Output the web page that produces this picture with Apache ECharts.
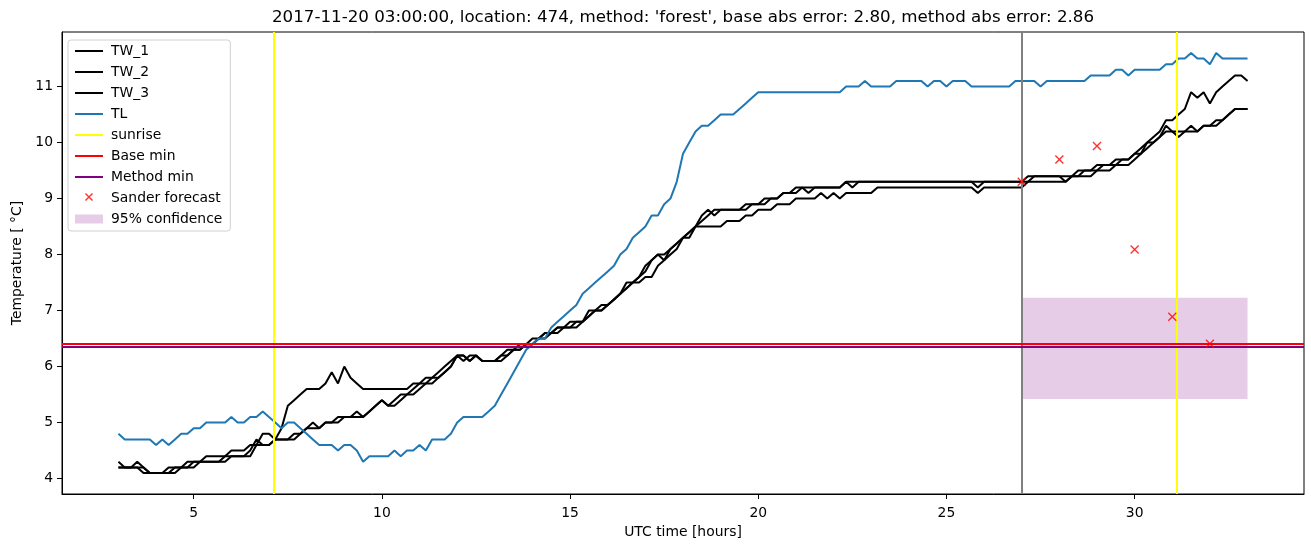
<!DOCTYPE html>
<html>
<head>
<meta charset="utf-8">
<script src="https://cdn.jsdelivr.net/npm/echarts@6/dist/echarts.min.js"></script>
<style>
  html, body { margin: 0; padding: 0; background: #fff; }
  #chart { width: 1311px; height: 547px; }
</style>
</head>
<body>
<div id="chart"></div>
<script>
// samples every 10 minutes, from 3 h to 33 h
var startHour = 3
var stepHour = 1 / 6

var TL = [
  4.8, 4.7, 4.7, 4.7, 4.7, 4.7,
  4.6, 4.7, 4.6, 4.7, 4.8, 4.8,
  4.9, 4.9, 5.0, 5.0, 5.0, 5.0,
  5.1, 5.0, 5.0, 5.1, 5.1, 5.2,
  5.1, 5.0, 4.9, 5.0, 5.0, 4.9,
  4.8, 4.7, 4.6, 4.6, 4.6, 4.5,
  4.6, 4.6, 4.5, 4.3, 4.4, 4.4,
  4.4, 4.4, 4.5, 4.4, 4.5, 4.5,
  4.6, 4.5, 4.7, 4.7, 4.7, 4.8,
  5.0, 5.1, 5.1, 5.1, 5.1, 5.2,
  5.3, 5.5, 5.7, 5.9, 6.1, 6.3,
  6.4, 6.5, 6.5, 6.7, 6.8, 6.9,
  7.0, 7.1, 7.3, 7.4, 7.5, 7.6,
  7.7, 7.8, 8.0, 8.1, 8.3, 8.4,
  8.5, 8.7, 8.7, 8.9, 9.0, 9.3,
  9.8, 10.0, 10.2, 10.3, 10.3, 10.4,
  10.5, 10.5, 10.5, 10.6, 10.7, 10.8,
  10.9, 10.9, 10.9, 10.9, 10.9, 10.9,
  10.9, 10.9, 10.9, 10.9, 10.9, 10.9,
  10.9, 10.9, 11.0, 11.0, 11.0, 11.1,
  11.0, 11.0, 11.0, 11.0, 11.1, 11.1,
  11.1, 11.1, 11.1, 11.0, 11.1, 11.1,
  11.0, 11.1, 11.1, 11.1, 11.0, 11.0,
  11.0, 11.0, 11.0, 11.0, 11.0, 11.1,
  11.1, 11.1, 11.1, 11.0, 11.1, 11.1,
  11.1, 11.1, 11.1, 11.1, 11.1, 11.2,
  11.2, 11.2, 11.2, 11.3, 11.3, 11.2,
  11.3, 11.3, 11.3, 11.3, 11.3, 11.4,
  11.4, 11.5, 11.5, 11.6, 11.5, 11.5,
  11.4, 11.6, 11.5, 11.5, 11.5, 11.5,
  11.5
]

var TW_1 = [
  4.3, 4.2, 4.2, 4.2, 4.2, 4.1,
  4.1, 4.1, 4.2, 4.2, 4.2, 4.3,
  4.3, 4.3, 4.4, 4.4, 4.4, 4.4,
  4.5, 4.5, 4.5, 4.6, 4.6, 4.8,
  4.8, 4.7, 4.9, 5.3, 5.4, 5.5,
  5.6, 5.6, 5.6, 5.7, 5.9, 5.7,
  6.0, 5.8, 5.7, 5.6, 5.6, 5.6,
  5.6, 5.6, 5.6, 5.6, 5.6, 5.7,
  5.7, 5.8, 5.8, 5.9, 6.0, 6.1,
  6.2, 6.2, 6.1, 6.2, 6.1, 6.1,
  6.1, 6.2, 6.3, 6.3, 6.4, 6.4,
  6.5, 6.5, 6.6, 6.6, 6.7, 6.7,
  6.8, 6.8, 6.8, 7.0, 7.0, 7.1,
  7.1, 7.2, 7.3, 7.4, 7.5, 7.6,
  7.8, 7.9, 8.0, 8.0, 8.1, 8.2,
  8.3, 8.4, 8.5, 8.7, 8.8, 8.7,
  8.8, 8.8, 8.8, 8.8, 8.9, 8.9,
  8.9, 9.0, 9.0, 9.0, 9.1, 9.1,
  9.2, 9.2, 9.2, 9.2, 9.2, 9.2,
  9.2, 9.2, 9.3, 9.3, 9.3, 9.3,
  9.3, 9.3, 9.3, 9.3, 9.3, 9.3,
  9.3, 9.3, 9.3, 9.3, 9.3, 9.3,
  9.3, 9.3, 9.3, 9.3, 9.3, 9.3,
  9.3, 9.3, 9.3, 9.3, 9.3, 9.3,
  9.3, 9.4, 9.4, 9.4, 9.4, 9.4,
  9.4, 9.4, 9.4, 9.5, 9.5, 9.5,
  9.6, 9.6, 9.6, 9.7, 9.7, 9.7,
  9.8, 9.9, 10.0, 10.1, 10.2, 10.4,
  10.4, 10.5, 10.6, 10.9, 10.8, 10.9,
  10.7, 10.9, 11.0, 11.1, 11.2, 11.2,
  11.1
]

var TW_2 = [
  4.2, 4.2, 4.2, 4.3, 4.2, 4.1,
  4.1, 4.1, 4.1, 4.2, 4.2, 4.2,
  4.3, 4.3, 4.3, 4.3, 4.3, 4.4,
  4.4, 4.4, 4.4, 4.5, 4.7, 4.6,
  4.6, 4.7, 4.7, 4.7, 4.8, 4.8,
  4.9, 5.0, 4.9, 5.0, 5.0, 5.1,
  5.1, 5.1, 5.2, 5.1, 5.2, 5.3,
  5.4, 5.3, 5.4, 5.5, 5.5, 5.6,
  5.7, 5.7, 5.8, 5.8, 5.9, 6.0,
  6.2, 6.1, 6.2, 6.2, 6.1, 6.1,
  6.1, 6.2, 6.2, 6.3, 6.3, 6.4,
  6.4, 6.5, 6.6, 6.6, 6.7, 6.7,
  6.7, 6.8, 6.8, 6.9, 7.0, 7.0,
  7.1, 7.2, 7.3, 7.5, 7.5, 7.6,
  7.7, 7.9, 8.0, 7.9, 8.1, 8.2,
  8.3, 8.4, 8.5, 8.6, 8.7, 8.8,
  8.8, 8.8, 8.8, 8.8, 8.8, 8.9,
  8.9, 8.9, 9.0, 9.0, 9.1, 9.1,
  9.1, 9.2, 9.1, 9.2, 9.2, 9.2,
  9.2, 9.2, 9.3, 9.2, 9.3, 9.3,
  9.3, 9.3, 9.3, 9.3, 9.3, 9.3,
  9.3, 9.3, 9.3, 9.3, 9.3, 9.3,
  9.3, 9.3, 9.3, 9.3, 9.3, 9.2,
  9.3, 9.3, 9.3, 9.3, 9.3, 9.3,
  9.3, 9.3, 9.4, 9.4, 9.4, 9.4,
  9.4, 9.3, 9.4, 9.4, 9.5, 9.5,
  9.5, 9.6, 9.6, 9.6, 9.7, 9.7,
  9.8, 9.8, 10.0, 10.0, 10.1, 10.3,
  10.2, 10.1, 10.2, 10.3, 10.2, 10.3,
  10.3, 10.4, 10.4, 10.5, 10.6, 10.6,
  10.6
]

var TW_3 = [
  4.2, 4.2, 4.2, 4.2, 4.1, 4.1,
  4.1, 4.1, 4.1, 4.1, 4.2, 4.2,
  4.2, 4.3, 4.3, 4.3, 4.3, 4.3,
  4.4, 4.4, 4.4, 4.4, 4.6, 4.6,
  4.6, 4.7, 4.7, 4.7, 4.7, 4.8,
  4.9, 4.9, 4.9, 5.0, 5.0, 5.0,
  5.1, 5.1, 5.1, 5.1, 5.2, 5.3,
  5.4, 5.3, 5.3, 5.4, 5.5, 5.5,
  5.6, 5.7, 5.7, 5.8, 5.9, 6.0,
  6.2, 6.2, 6.1, 6.2, 6.1, 6.1,
  6.1, 6.1, 6.2, 6.3, 6.3, 6.4,
  6.4, 6.5, 6.5, 6.6, 6.6, 6.7,
  6.7, 6.7, 6.8, 6.9, 7.0, 7.0,
  7.1, 7.2, 7.3, 7.4, 7.5, 7.5,
  7.6, 7.6, 7.8, 7.9, 8.0, 8.1,
  8.3, 8.3, 8.5, 8.5, 8.5, 8.5,
  8.5, 8.6, 8.6, 8.6, 8.7, 8.7,
  8.8, 8.8, 8.8, 8.9, 8.9, 8.9,
  9.0, 9.0, 9.0, 9.0, 9.1, 9.0,
  9.1, 9.0, 9.1, 9.1, 9.1, 9.1,
  9.1, 9.2, 9.2, 9.2, 9.2, 9.2,
  9.2, 9.2, 9.2, 9.2, 9.2, 9.2,
  9.2, 9.2, 9.2, 9.2, 9.2, 9.1,
  9.2, 9.2, 9.2, 9.2, 9.2, 9.2,
  9.2, 9.3, 9.3, 9.3, 9.3, 9.3,
  9.3, 9.3, 9.4, 9.4, 9.4, 9.4,
  9.5, 9.5, 9.5, 9.6, 9.6, 9.6,
  9.7, 9.8, 9.9, 10.0, 10.1, 10.2,
  10.2, 10.2, 10.2, 10.2, 10.2, 10.3,
  10.3, 10.3, 10.4, 10.5, 10.6, 10.6,
  10.6
]

var sunriseHours = [7.12, 31.12]
var forecastStart = 27
var baseMin = 6.40
var methodMin = 6.35
var forecastHours = [27, 28, 29, 30, 31, 32]
var forecastValues = [9.30, 9.70, 9.94, 8.09, 6.89, 6.41]
var confLow = 5.42
var confHigh = 7.23
var confEnd = 33

var xTicks = [5, 10, 15, 20, 25, 30]
var yTicks = [4, 5, 6, 7, 8, 9, 10, 11]

var font = 'DejaVu Sans'
var crossPath = 'path://M0,1.1L1.1,0L5,3.9L8.9,0L10,1.1L6.1,5L10,8.9L8.9,10L5,6.1L1.1,10L0,8.9L3.9,5Z'
// icons padded with invisible corner points so they keep their size in the 28x14 slot
var pad = 'M0,0L0.01,0ZM28,14L28.01,14Z'
var lineIcon = 'path://' + pad + 'M0,6H28V8H0Z'
var crossIcon = 'path://' + pad + 'M10,3L11,2L14,5L17,2L18,3L15,6L18,9L17,10L14,7L11,10L10,9L13,6Z'
var rectIcon = 'path://' + pad + 'M0,2.5H28V11.5H0Z'

function pairs(values) {
    return values.map(function(v, i) {
        return [startHour + i * stepHour, v]
    })
}

function lineSeries(name, values, color) {
    return {
        name: name,
        type: 'line',
        data: pairs(values),
        symbol: 'none',
        showSymbol: false,
        color: color,
        lineStyle: { color: color, width: 2 },
        z: 3
    }
}

function refLine(name, color, points, z) {
    return {
        name: name,
        type: 'line',
        data: [],
        symbol: 'none',
        color: color,
        lineStyle: { color: color, width: 2 },
        markLine: {
            silent: true,
            symbol: 'none',
            label: { show: false },
            lineStyle: { color: color, width: 2, type: 'solid' },
            data: points
        },
        z: z
    }
}

var chart = echarts.init(document.getElementById('chart'))

var option = {
    animation: false,
    backgroundColor: '#fff',
    textStyle: { fontFamily: font },
    title: {
        text: "2017-11-20 03:00:00, location: 474, method: 'forest', base abs error: 2.80, method abs error: 2.86",
        left: 683,
        top: 9,
        textAlign: 'center',
        padding: 0,
        textStyle: { fontFamily: font, fontSize: 16.7, fontWeight: 'normal', color: '#000' }
    },
    legend: {
        orient: 'vertical',
        left: 68,
        top: 40,
        padding: [4, 8, 5, 7],
        itemGap: 7,
        itemWidth: 28,
        itemHeight: 14,
        backgroundColor: 'rgba(255,255,255,0.8)',
        borderColor: '#d0d0d0',
        borderWidth: 1,
        borderRadius: 3,
        textStyle: { fontFamily: font, fontSize: 13.9, color: '#000', padding: [0, 0, 0, 3] },
        data: [
            { name: 'TW_1', icon: lineIcon },
            { name: 'TW_2', icon: lineIcon },
            { name: 'TW_3', icon: lineIcon },
            { name: 'TL', icon: lineIcon },
            { name: 'sunrise', icon: lineIcon },
            { name: 'Base min', icon: lineIcon },
            { name: 'Method min', icon: lineIcon },
            { name: 'Sander forecast', icon: crossIcon },
            { name: '95% confidence', icon: rectIcon }
        ]
    },
    grid: {
        left: 62,
        right: 7,
        top: 32,
        bottom: 53,
        show: true,
        borderColor: '#000',
        borderWidth: 1
    },
    xAxis: {
        type: 'value',
        min: 1.5,
        max: 34.5,
        name: 'UTC time [hours]',
        nameLocation: 'middle',
        nameGap: 28,
        nameTextStyle: { fontFamily: font, fontSize: 13.9, color: '#000' },
        axisLine: { show: true, onZero: false, lineStyle: { color: '#000', width: 1 } },
        axisTick: { show: true, length: 5, customValues: xTicks, lineStyle: { color: '#000' } },
        axisLabel: { customValues: xTicks, margin: 12, fontFamily: font, fontSize: 13.9, color: '#000' },
        splitLine: { show: false }
    },
    yAxis: {
        type: 'value',
        min: 3.725,
        max: 11.975,
        name: 'Temperature [ °C]',
        nameLocation: 'middle',
        nameGap: 38,
        nameRotate: 90,
        nameTextStyle: { fontFamily: font, fontSize: 13.9, color: '#000' },
        axisLine: { show: true, onZero: false, lineStyle: { color: '#000', width: 1 } },
        axisTick: { show: true, length: 5, customValues: yTicks, lineStyle: { color: '#000' } },
        axisLabel: { customValues: yTicks, margin: 9, fontFamily: font, fontSize: 13.9, color: '#000' },
        splitLine: { show: false }
    },
    series: [
        lineSeries('TW_1', TW_1, '#000'),
        lineSeries('TW_2', TW_2, '#000'),
        lineSeries('TW_3', TW_3, '#000'),
        lineSeries('TL', TL, '#1f77b4'),
        refLine('sunrise', '#ffff00', sunriseHours.map(function(h) { return { xAxis: h } }), 4),
        refLine('forecast start', '#808080', [{ xAxis: forecastStart }], 4),
        refLine('Base min', '#ff0000', [{ yAxis: baseMin }], 4),
        refLine('Method min', '#800080', [{ yAxis: methodMin }], 4),
        {
            name: 'Sander forecast',
            type: 'scatter',
            data: forecastHours.map(function(h, i) { return [h, forecastValues[i]] }),
            symbol: crossPath,
            symbolSize: 9,
            color: '#ff0000',
            itemStyle: { color: '#ff0000' },
            z: 6
        },
        {
            name: '95% confidence',
            type: 'line',
            data: [],
            symbol: 'none',
            color: 'rgba(128,0,128,0.2)',
            itemStyle: { color: 'rgba(128,0,128,0.2)' },
            markArea: {
                silent: true,
                itemStyle: { color: 'rgba(128,0,128,0.2)' },
                data: [[
                    { xAxis: forecastStart, yAxis: confLow },
                    { xAxis: confEnd, yAxis: confHigh }
                ]]
            },
            z: 1
        }
    ]
}

chart.setOption(option)
</script>
</body>
</html>
